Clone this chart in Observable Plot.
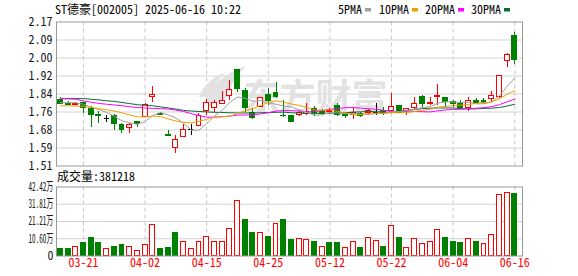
<!DOCTYPE html>
<html><head><meta charset="utf-8">
<script src="https://cdn.jsdelivr.net/npm/d3@7"></script>
<script src="https://cdn.jsdelivr.net/npm/@observablehq/plot@0.6"></script>
<style>
html,body{margin:0;padding:0;background:#fff;}
#wrap{position:relative;width:578px;height:276px;overflow:hidden;background:#fff;}
#wrap svg{position:absolute;left:0;}
</style></head><body><div id="wrap"></div>
<script>
const FONT = '"Noto Sans Mono CJK SC","Noto Sans CJK SC","Liberation Mono",monospace';
const title = "ST德豪[002005] 2025-06-16 10:22";
const volLabel = "成交量:381218";
const watermark = "东方财富";
const dates = ["03-18","03-19","03-20","03-21","03-24","03-25","03-26","03-27","03-28","03-31",
"04-01","04-02","04-03","04-07","04-08","04-09","04-10","04-11","04-14","04-15",
"04-16","04-17","04-18","04-21","04-22","04-23","04-24","04-25","04-28","04-29",
"04-30","05-06","05-07","05-08","05-09","05-12","05-13","05-14","05-15","05-16",
"05-19","05-20","05-21","05-22","05-23","05-26","05-27","05-28","05-29","05-30",
"06-03","06-04","06-05","06-06","06-09","06-10","06-11","06-12","06-13","06-16"];
const open  = [1.812,1.793,1.790,1.800,1.773,1.743,1.726,1.737,1.700,1.685,1.711,1.734,1.827,1.748,1.652,1.594,1.645,1.677,1.693,1.761,
1.775,1.795,1.833,1.952,1.852,1.752,1.780,1.836,1.845,1.741,1.741,1.743,1.749,1.772,1.761,1.758,1.787,1.748,1.746,1.749,
1.752,1.757,1.764,1.761,1.783,1.763,1.775,1.825,1.792,1.825,1.822,1.803,1.795,1.775,1.809,1.810,1.815,1.826,1.989,2.104];
const high  = [1.822,1.805,1.803,1.803,1.785,1.762,1.742,1.745,1.707,1.707,1.711,1.795,1.875,1.755,1.672,1.650,1.698,1.700,1.752,1.813,
1.810,1.853,1.902,1.952,1.864,1.773,1.822,1.864,1.894,1.810,1.741,1.760,1.795,1.783,1.767,1.775,1.795,1.752,1.775,1.757,
1.767,1.795,1.777,1.844,1.787,1.774,1.825,1.833,1.825,1.882,1.825,1.810,1.810,1.825,1.821,1.821,1.851,1.923,2.024,2.120];
const low   = [1.794,1.786,1.787,1.752,1.685,1.703,1.708,1.673,1.661,1.661,1.685,1.733,1.800,1.740,1.647,1.569,1.643,1.650,1.690,1.741,
1.757,1.795,1.810,1.849,1.757,1.722,1.779,1.787,1.818,1.734,1.708,1.737,1.741,1.737,1.741,1.749,1.737,1.726,1.721,1.734,
1.741,1.741,1.741,1.749,1.749,1.742,1.764,1.780,1.787,1.787,1.780,1.780,1.772,1.760,1.795,1.795,1.803,1.821,1.963,1.974];
const close = [1.796,1.788,1.795,1.778,1.745,1.737,1.726,1.704,1.673,1.700,1.704,1.791,1.836,1.743,1.648,1.630,1.673,1.677,1.741,1.800,
1.800,1.809,1.858,1.861,1.777,1.730,1.822,1.810,1.826,1.737,1.711,1.751,1.757,1.752,1.752,1.762,1.744,1.740,1.753,1.738,
1.761,1.757,1.752,1.780,1.752,1.772,1.792,1.792,1.801,1.833,1.803,1.793,1.775,1.806,1.800,1.800,1.833,1.923,2.020,1.994];
// volume in 万 shares
const volume = [4.4,4.0,5.6,7.7,11.2,7.7,4.4,5.8,6.9,5.6,3.2,6.9,19.2,4.0,5.0,14.4,8.9,4.4,8.3,11.8,
8.9,8.3,16.7,33.9,22.4,14.4,14.4,11.4,19.4,22.4,10.1,10.6,9.9,8.9,5.6,7.7,7.7,5.0,8.3,5.2,
11.2,9.3,5.8,18.6,10.8,5.0,10.6,7.5,8.7,16.1,10.8,8.9,7.7,10.6,8.9,7.5,13.0,37.6,38.8,38.12];
const volUp = [0,0,1,0,0,0,1,0,0,1,1,1,1,0,0,0,1,1,1,1,
1,1,1,1,0,0,1,0,1,0,0,1,1,0,1,0,0,1,1,0,
1,1,0,1,0,1,1,1,1,1,0,0,0,1,0,1,1,1,1,0];
const ma5 = [1.800,1.800,1.800,1.793,1.780,1.768,1.756,1.738,1.717,1.708,1.701,1.714,1.741,1.755,1.744,1.730,1.706,1.674,1.674,1.704,
1.738,1.765,1.802,1.826,1.821,1.807,1.810,1.800,1.793,1.785,1.781,1.767,1.756,1.742,1.745,1.755,1.753,1.750,1.750,1.747,
1.747,1.750,1.752,1.758,1.760,1.763,1.770,1.778,1.782,1.798,1.804,1.804,1.801,1.802,1.795,1.795,1.803,1.832,1.875,1.914];
const ma10 = [1.786,1.786,1.785,1.783,1.779,1.773,1.768,1.762,1.754,1.744,1.735,1.735,1.739,1.736,1.726,1.716,1.710,1.708,1.714,1.724,
1.734,1.736,1.738,1.750,1.763,1.773,1.788,1.801,1.809,1.803,1.794,1.788,1.778,1.767,1.765,1.768,1.760,1.753,1.746,1.746,
1.751,1.752,1.751,1.754,1.754,1.755,1.760,1.765,1.770,1.779,1.783,1.787,1.789,1.792,1.797,1.800,1.804,1.817,1.839,1.855];
const ma20 = [1.819,1.818,1.816,1.808,1.802,1.797,1.793,1.790,1.786,1.782,1.778,1.776,1.774,1.773,1.771,1.766,1.760,1.750,1.741,1.734,
1.734,1.736,1.739,1.743,1.744,1.744,1.749,1.754,1.762,1.764,1.764,1.762,1.758,1.759,1.764,1.770,1.774,1.777,1.778,1.775,
1.773,1.770,1.765,1.761,1.759,1.761,1.760,1.759,1.758,1.763,1.767,1.769,1.770,1.773,1.775,1.777,1.782,1.791,1.804,1.817];
const ma30 = [1.819,1.819,1.819,1.819,1.816,1.813,1.809,1.806,1.801,1.796,1.791,1.788,1.786,1.781,1.776,1.771,1.765,1.762,1.760,1.758,
1.756,1.755,1.754,1.753,1.753,1.753,1.754,1.755,1.756,1.757,1.754,1.753,1.752,1.751,1.751,1.752,1.753,1.754,1.757,1.758,
1.760,1.759,1.756,1.757,1.760,1.765,1.769,1.773,1.775,1.776,1.776,1.776,1.773,1.771,1.772,1.774,1.775,1.778,1.785,1.793];
const maNames  = ["5PMA","10PMA","20PMA","30PMA"];
const maColors = ["#a0a0a0","#f2a000","#ff00ff","#0b6b2e"];
const xTickLabels = ["03-21","04-02","04-15","04-25","05-12","05-22","06-04","06-16"];
const priceTicks = [1.51,1.5925,1.675,1.7575,1.84,1.9225,2.005,2.0875,2.17];
const priceTickLabels = ["1.51","1.59","1.68","1.76","1.84","1.92","2.00","2.09","2.17"];
const volTicks = [0,10.605,21.21,31.815,42.42];
const volTickLabels = ["0","10.60万","21.21万","31.81万","42.42万"];

const RED = "#ff0000", GREEN = "#008000", GRID = "#d3d3d3", FRAME = "#999999", WM = "#e2e2e2";
const rows = dates.map((d,i)=>({i, date:d, o:open[i], h:high[i], l:low[i], c:close[i], v:volume[i], up:volUp[i]}));
const kind = d => d.c > d.o ? "up" : d.c < d.o ? "down" : "flat";
const kcolor = d => ({up:RED, down:GREEN, flat:"#000000"})[kind(d)];
const tickIdx = xTickLabels.map(t => dates.indexOf(t));
const BW = 0.32;
const maSeries = [ma5, ma10, ma20, ma30];
const maRows = [3,2,0,1].flatMap(k => maSeries[k].map((v,i)=>({i, v, k})));

const common = {width:578, marginLeft:56, marginRight:56,
  x:{domain:[-0.5,60], axis:null}, color:{type:"identity"},
  style:{fontFamily:FONT, fontSize:"12px", background:"transparent", overflow:"visible"}};

const price = Plot.plot({...common, height:170, marginTop:21.5, marginBottom:4.5,
  y:{domain:[1.51,2.17], axis:null},
  marks:[
    Plot.ruleY(priceTicks.slice(1,-1), {stroke:GRID}),
    Plot.ruleX(tickIdx, {x:d=>d, stroke:"#c8c8c8", strokeDasharray:"4,3"}),
    Plot.text([watermark], {text:d=>d, frameAnchor:"middle", dx:26, dy:4, fontSize:36, fontWeight:"bold", fill:WM}),
    Plot.ruleX(rows, {x:"i", y1:d=>Math.max(d.o,d.c), y2:"h", stroke:kcolor, shapeRendering:"crispEdges"}),
    Plot.ruleX(rows, {x:"i", y1:"l", y2:d=>Math.min(d.o,d.c), stroke:kcolor, shapeRendering:"crispEdges"}),
    Plot.rect(rows.filter(d=>kind(d)!=="flat"), {x1:d=>d.i-BW, x2:d=>d.i+BW, y1:"o", y2:"c",
      fill:d=>kind(d)==="up"?"#ffffff":GREEN, stroke:kcolor, shapeRendering:"crispEdges"}),
    Plot.ruleY(rows.filter(d=>kind(d)==="flat"), {y:"o", x1:d=>d.i-BW, x2:d=>d.i+BW, stroke:"#000", shapeRendering:"crispEdges"}),
    Plot.line(maRows, {x:"i", y:"v", z:"k", stroke:d=>maColors[d.k], strokeWidth:1}),
    Plot.frame({stroke:FRAME}),
    Plot.text(priceTicks, {y:d=>d, text:(d,i)=>priceTickLabels[i], frameAnchor:"left", textAnchor:"end", dx:-4, fill:"#1a1a1a"})
  ]});
price.style.top = "0px";

const vol = Plot.plot({...common, height:100, marginTop:10.5, marginBottom:20.5,
  y:{domain:[0,42.42], axis:null},
  marks:[
    Plot.ruleY(volTicks.slice(1,-1), {stroke:GRID}),
    Plot.ruleX(tickIdx, {x:d=>d, stroke:"#c8c8c8", strokeDasharray:"4,3"}),
    Plot.rect(rows, {x1:d=>d.i-BW, x2:d=>d.i+BW, y1:0, y2:"v",
      fill:d=>d.up?"#ffffff":GREEN, stroke:d=>d.up?RED:GREEN, shapeRendering:"crispEdges"}),
    Plot.frame({stroke:FRAME}),
    Plot.text(volTicks, {y:d=>d, text:(d,i)=>volTickLabels[i], frameAnchor:"left", textAnchor:"end", dx:-3, fill:"#1a1a1a"}),
    Plot.text(tickIdx, {x:d=>d, text:d=>dates[d], frameAnchor:"bottom", dy:10.5, fill:RED})
  ]});
vol.style.top = "176px";

const wrap = document.getElementById("wrap");
wrap.appendChild(price);
wrap.appendChild(vol);

// watermark logo swoosh, drawn behind the candles (light gray, decorative)
{
  const svg = d3.select(price);
  const wmNode = svg.selectAll("text").filter(function(){return this.textContent === watermark;}).node();
  const wmGroup = wmNode.closest("g[aria-label]") || wmNode.parentNode;
  const g = d3.select(wmGroup.parentNode).insert("g", () => wmGroup.nextSibling).attr("fill", WM);
  g.append("path").attr("d", "M203,108 C206,90 222,74 246,66 C236,76 230,86 228,96 C224,100 216,104 203,108 Z");
  g.append("path").attr("d", "M199,97 C203,85 213,77 226,72 C218,80 212,88 210,97 Z");
}

// compress the 万 labels horizontally (as in the reference) with a scale transform
d3.select(vol).selectAll("text").filter(function(){return this.textContent.includes("万");})
  .each(function(){
    const len = this.getComputedTextLength();
    const k = len > 0 ? 25 / len : 0.6;
    const x = +(this.getAttribute("x") || 0);
    const t = this.getAttribute("transform") || "";
    this.setAttribute("transform", `${t} translate(${x},0) scale(${k},1) translate(${-x},0)`);
  });

// header / labels overlay
const ov = d3.select(wrap).append("svg").attr("width",578).attr("height",276).style("top","0px")
  .style("font-family",FONT).style("font-size","12px").style("pointer-events","none");
ov.append("text").attr("x",55).attr("y",14).attr("fill","#000").text(title);
const legendX = [338,379,425,471];
maNames.forEach((n,k)=>{
  const g = ov.append("g");
  const t = g.append("text").attr("x",legendX[k]).attr("y",14).attr("fill","#000").text(n);
  const w = t.node().getComputedTextLength();
  g.append("rect").attr("x",legendX[k]+w+3).attr("y",8).attr("width",6).attr("height",3.5).attr("fill",maColors[k]);
});
ov.append("text").attr("x",57).attr("y",180.5).attr("fill","#000").text(volLabel);
</script></body></html>
